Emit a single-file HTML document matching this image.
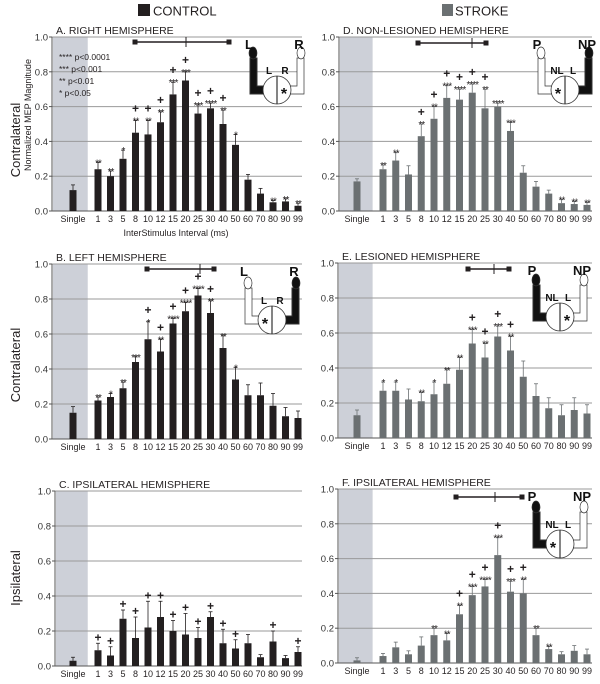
<!DOCTYPE html>
<html><head><meta charset="utf-8">
<style>
html,body{margin:0;padding:0;background:#fff;}
svg{display:block;font-family:"Liberation Sans",sans-serif;}
</style></head>
<body>
<svg id="fig" width="600" height="684" viewBox="0 0 600 684">
  <g>
    <rect x="138" y="4" width="12" height="12" fill="#231f20"/>
    <text x="153" y="15.5" font-size="13" fill="#231f20">CONTROL</text>
  </g>
  <g>
    <rect x="442" y="4" width="11" height="12" fill="#6b7072"/>
    <text x="455" y="15.5" font-size="13" fill="#231f20">STROKE</text>
  </g>
  <text transform="translate(20,140) rotate(-90)" text-anchor="middle" font-size="13" fill="#231f20">Contralateral</text>
  <text transform="translate(31,115) rotate(-90)" text-anchor="middle" font-size="9" fill="#231f20">Normalized MEP Magnitude</text>
  <text x="176" y="236" text-anchor="middle" font-size="9" fill="#231f20">InterStimulus Interval (ms)</text>
  <text transform="translate(20,365) rotate(-90)" text-anchor="middle" font-size="13" fill="#231f20">Contralateral</text>
  <text transform="translate(20,578) rotate(-90)" text-anchor="middle" font-size="13" fill="#231f20">Ipsilateral</text>
</svg>
<script>
const categories=["Single","1","3","5","8","10","12","15","20","25","30","40","50","60","70","80","90","99"];
const yTicks=[0,0.2,0.4,0.6,0.8,1.0];
const yTickLabels=["0.0","0.2","0.4","0.6","0.8","1.0"];
const valsA=[.12,.24,.20,.30,.45,.44,.51,.67,.75,.56,.59,.50,.38,.18,.10,.05,.055,.03];
const errA=[.03,.04,.03,.05,.07,.08,.06,.07,.05,.05,.03,.08,.06,.03,.03,.01,.015,.015];
const starsA=["","**","**","*","**","**","**","***","***","***","****","**","*","","","**","**","**"];
const plusA=[0,0,0,0,1,1,1,1,1,1,1,1,0,0,0,0,0,0];
const valsB=[.15,.22,.24,.29,.44,.57,.50,.66,.73,.82,.72,.52,.34,.25,.25,.19,.13,.12];
const errB=[.035,.02,.02,.035,.03,.1,.07,.03,.05,.04,.07,.07,.07,.06,.07,.07,.05,.04];
const starsB=["","**","*","**","***","*","**","****","****","****","**","**","*","","","","",""];
const plusB=[0,0,0,0,0,1,1,1,1,1,1,0,0,0,0,0,0,0];
const valsC=[.03,.09,.06,.27,.16,.22,.28,.20,.18,.16,.28,.13,.10,.13,.05,.14,.045,.08];
const errC=[.02,.04,.05,.05,.12,.15,.09,.06,.12,.06,.03,.08,.05,.05,.015,.06,.015,.03];
const starsC=["","","","","","","","","","","","","","","","","",""];
const plusC=[0,1,1,1,1,1,1,1,1,1,1,1,1,0,0,1,0,1];
const valsD=[.17,.24,.29,.21,.43,.53,.65,.64,.68,.59,.60,.46,.22,.14,.10,.045,.04,.035];
const errD=[.015,.025,.045,.05,.07,.07,.07,.06,.05,.11,.02,.05,.04,.03,.02,.02,.015,.015];
const starsD=["","**","**","","**","**","***","****","****","**","****","***","","","","**","**","**"];
const plusD=[0,0,0,0,1,1,1,1,1,1,0,0,0,0,0,0,0,0];
const valsE=[.13,.27,.27,.22,.21,.25,.31,.39,.54,.46,.58,.50,.35,.24,.17,.13,.16,.14];
const errE=[.03,.05,.05,.06,.05,.07,.08,.07,.08,.08,.06,.08,.09,.07,.06,.06,.07,.05];
const starsE=["","*","*","","**","*","**","**","***","**","***","**","","","","","",""];
const plusE=[0,0,0,0,0,0,0,0,1,1,1,1,0,0,0,0,0,0];
const valsF=[.015,.04,.09,.05,.10,.16,.13,.28,.39,.44,.62,.41,.40,.16,.08,.05,.07,.05];
const errF=[.015,.015,.03,.02,.05,.04,.04,.05,.05,.04,.1,.06,.08,.04,.015,.015,.03,.03];
const starsF=["","","","","","**","**","**","***","****","***","***","**","**","**","","",""];
const plusF=[0,0,0,0,0,0,0,1,1,1,1,1,1,0,0,0,0,0];

const NS="http://www.w3.org/2000/svg";
const svg=document.getElementById('fig');
function mk(tag,attrs,parent){const e=document.createElementNS(NS,tag);for(const k in attrs)e.setAttribute(k,attrs[k]);(parent||svg).appendChild(e);return e;}

const panels=[
 {id:'a',title:'A. RIGHT HEMISPHERE',ax:52,right:302,top:37,bot:211,x1:98,dx:12.5,xs:73,col:'#231f20',vals:valsA,err:errA,stars:starsA,plus:plusA,range:[135,229,186,42],icon:{cx:277,cy:90,l:'L',r:'R',il:'L',ir:'R',blackLeft:true,starLeft:false}},
 {id:'b',title:'B. LEFT HEMISPHERE',ax:52,right:302,top:264,bot:439,x1:98,dx:12.5,xs:73,col:'#231f20',vals:valsB,err:errB,stars:starsB,plus:plusB,range:[147,214,200,269],icon:{cx:272,cy:320,l:'L',r:'R',il:'L',ir:'R',blackLeft:false,starLeft:true}},
 {id:'c',title:'C. IPSILATERAL HEMISPHERE',ax:55,right:302,top:491,bot:666,x1:98,dx:12.5,xs:73,col:'#231f20',vals:valsC,err:errC,stars:starsC,plus:plusC,range:null,icon:null},
 {id:'d',title:'D. NON-LESIONED HEMISPHERE',ax:339,right:592,top:37,bot:211,x1:383,dx:12.75,xs:357,col:'#6b7072',vals:valsD,err:errD,stars:starsD,plus:plusD,range:[418,486,472,43],icon:{cx:565,cy:90,l:'P',r:'NP',il:'NL',ir:'L',blackLeft:false,starLeft:true}},
 {id:'e',title:'E. LESIONED HEMISPHERE',ax:338,right:592,top:263,bot:438,x1:383,dx:12.75,xs:357,col:'#6b7072',vals:valsE,err:errE,stars:starsE,plus:plusE,range:[468,509,494,269],icon:{cx:560,cy:317,l:'P',r:'NP',il:'NL',ir:'L',blackLeft:true,starLeft:false}},
 {id:'f',title:'F. IPSILATERAL HEMISPHERE',ax:338,right:592,top:489,bot:663,x1:383,dx:12.75,xs:357,col:'#6b7072',vals:valsF,err:errF,stars:starsF,plus:plusF,range:[456,522,495,497],icon:{cx:560,cy:544,l:'P',r:'NP',il:'NL',ir:'L',blackLeft:true,starLeft:true}}
];

panels.forEach(p=>{
 const g=mk('g',{});
 
 
 const y=v=>p.bot-(p.bot-p.top)*v;
 const x=i=>i===0?p.xs:p.x1+(i-1)*p.dx;
 const sh=mk('rect',{x:p.ax+1,y:p.top,width:(p.x1-p.dx/2-2)-(p.ax+1)-2,height:p.bot-p.top,fill:'#cdd0d8'},g);
 
 
 yTicks.forEach((t,k)=>{
  if(t>0){const gl=mk('line',{x1:p.ax,x2:p.right,y1:y(t),y2:y(t),stroke:'#9a9a9a','stroke-width':1},g);
   
   }
  mk('line',{x1:p.ax-3,x2:p.ax,y1:y(t),y2:y(t),stroke:'#555'},g);
  const tl=mk('text',{x:p.ax-4,y:y(t)+3.5,'text-anchor':'end','font-size':9.5,fill:'#333'},g);
  tl.textContent=yTickLabels[k];
  
  
 });
 mk('line',{x1:p.ax,x2:p.ax,y1:p.top,y2:p.bot,stroke:'#555'},g);
 mk('line',{x1:p.ax,x2:p.right,y1:p.bot,y2:p.bot,stroke:'#555'},g);
 const tt=mk('text',{x:p.ax+4,y:p.top-3,'font-size':10.5,fill:'#231f20'},g);
 tt.textContent=p.title;
 
 
 categories.forEach((c,i)=>{
  const cx=x(i),v=p.vals[i],e=p.err[i];
  const b=mk('rect',{x:cx-3.5,y:y(v),width:7,height:p.bot-y(v),fill:p.col},g);
  
  
  const ty=y(v+e);
  mk('line',{x1:cx,x2:cx,y1:y(v),y2:ty,stroke:p.col,'stroke-width':0.8},g);
  mk('line',{x1:cx-2,x2:cx+2,y1:ty,y2:ty,stroke:p.col,'stroke-width':0.8},g);
  let top=ty-1;
  if(p.stars[i]){const s=mk('text',{x:cx,y:top+5,'text-anchor':'middle','font-size':10,fill:'#231f20','letter-spacing':'-1'},g);
   s.textContent=p.stars[i];
   
   
   top-=6;}
  if(p.plus[i]){const pl=mk('text',{x:cx,y:top-1,'text-anchor':'middle','font-size':12,'font-weight':'bold',fill:'#231f20'},g);
   pl.textContent='+';
   
   }
  const xl=mk('text',{x:cx,y:p.bot+11,'text-anchor':'middle','font-size':9,fill:'#231f20'},g);
  xl.textContent=c;
  
  
 });
 if(p.range){const [a,b2,m,ry]=p.range;
  const rg=mk('g',{},g);
  
  
  mk('line',{x1:a,x2:b2,y1:ry,y2:ry,stroke:'#231f20','stroke-width':1.6},rg);
  mk('rect',{x:a-2.5,y:ry-2.5,width:5,height:5,fill:'#231f20'},rg);
  mk('rect',{x:b2-2.5,y:ry-2.5,width:5,height:5,fill:'#231f20'},rg);
  mk('line',{x1:m,x2:m,y1:ry-5,y2:ry+5,stroke:'#231f20','stroke-width':1},rg);
 }
 if(p.icon){const ic=p.icon,ig=mk('g',{},g);
  
  
  const cx=ic.cx,cy=ic.cy;
  const lf=ic.blackLeft?'#111':'#fff';
  mk('path',{d:`M${cx-13} ${cy+4} L${cx-27} ${cy+4} L${cx-27} ${cy-32} L${cx-20} ${cy-32} L${cx-20} ${cy-4} L${cx-13} ${cy-4} Z`,fill:lf,stroke:'#333','stroke-width':ic.blackLeft?1:0.7},ig);
  mk('ellipse',{cx:cx-24,cy:cy-37,rx:4,ry:6,fill:lf,stroke:'#333','stroke-width':0.7},ig);
  const rf=ic.blackLeft?'#fff':'#111';
  mk('path',{d:`M${cx+13} ${cy+4} L${cx+27} ${cy+4} L${cx+27} ${cy-32} L${cx+20} ${cy-32} L${cx+20} ${cy-4} L${cx+13} ${cy-4} Z`,fill:rf,stroke:'#333','stroke-width':ic.blackLeft?0.7:1},ig);
  mk('ellipse',{cx:cx+24,cy:cy-37,rx:4,ry:6,fill:rf,stroke:'#333','stroke-width':0.7},ig);
  mk('circle',{cx:cx,cy:cy,r:14,fill:'#fff',stroke:'#333','stroke-width':0.8},ig);
  mk('line',{x1:cx,x2:cx,y1:cy-14,y2:cy+14,stroke:'#333','stroke-width':1.2},ig);
  const st=mk('text',{x:ic.starLeft?cx-7:cx+7,y:cy+9,'text-anchor':'middle','font-size':16,'font-weight':'bold',fill:'#111'},ig);st.textContent='*';
  const a1=mk('text',{x:cx-8,y:cy-16,'text-anchor':'middle','font-size':10,'font-weight':'bold',fill:'#111'},ig);a1.textContent=ic.il;
  const a2=mk('text',{x:cx+8,y:cy-16,'text-anchor':'middle','font-size':10,'font-weight':'bold',fill:'#111'},ig);a2.textContent=ic.ir;
  const b1=mk('text',{x:cx-28,y:p.top+12,'text-anchor':'middle','font-size':13,'font-weight':'bold',fill:'#111'},ig);b1.textContent=ic.l;
  const b2=mk('text',{x:cx+22,y:p.top+12,'text-anchor':'middle','font-size':13,'font-weight':'bold',fill:'#111'},ig);b2.textContent=ic.r;
 }
});

const key=mk('g',{'font-size':8.5,fill:'#231f20'});


["**** p<0.0001","*** p<0.001","** p<0.01","* p<0.05"].forEach((s,k)=>{
 const t=mk('text',{x:59,y:60+k*12},key);t.textContent=s;
});
</script>
</body></html>
